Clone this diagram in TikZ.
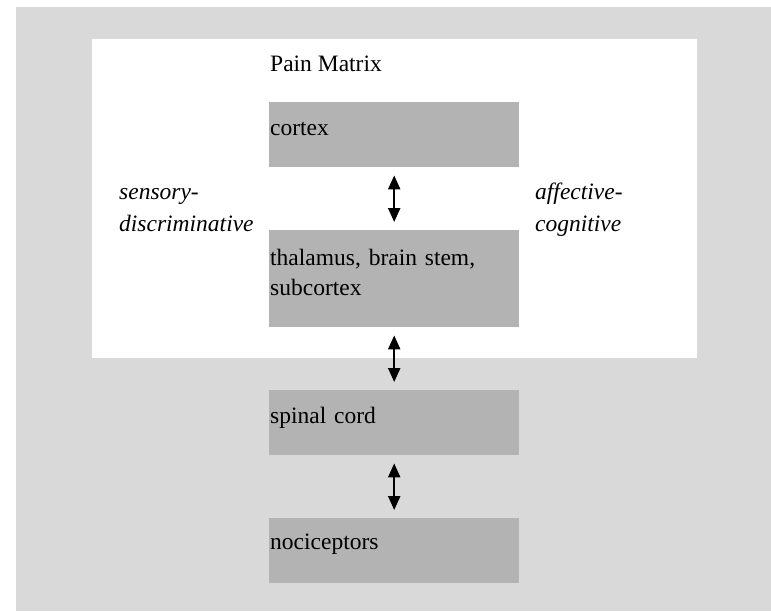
\documentclass[tikz,border=0pt]{standalone}
\usepackage{fontspec}
\setmainfont{Liberation Serif}
\usetikzlibrary{arrows.meta}
\definecolor{panelgray}{RGB}{217,217,217}
\definecolor{boxgray}{RGB}{179,179,179}
\tikzset{stage/.style={fill=boxgray, anchor=north west, inner sep=0pt, inner xsep=1pt,
    text width=248pt, align=left, font=\fontsize{23.5}{30}\selectfont}}
\tikzset{side/.style={anchor=base west, inner sep=0pt, align=left,
    font=\fontsize{23.5}{32}\selectfont\itshape}}
\tikzset{link/.style={{Triangle[width=12pt,length=14pt]}-{Triangle[width=12pt,length=14pt]},
    line width=2.2pt, shorten <=8pt, shorten >=8pt}}
\begin{document}
\begin{tikzpicture}[x=1pt, y=-1pt]
      \useasboundingbox (0, 0) rectangle (771, 611);
      \fill [white] (0, 0) rectangle (771, 611);
      \fill [panelgray] (16, 7) rectangle (771, 611);
      \fill [white] (92, 39) rectangle (697, 358);

      \node [side] (title) at (270, 71) {\upshape Pain Matrix};
      \node [side] (sensory) at (119, 231) {sensory-\\discriminative};
      \node [side] (affective) at (535, 231) {affective-\\cognitive};

      \node [stage, text height=33pt, text depth=32pt] (cortex) at (269, 102) {cortex};
      \node [stage, text height=35pt, text depth=62pt] (thalamus) at (269, 230) {thalamus, brain stem,\\subcortex};
      \node [stage, text height=33pt, text depth=32pt] (spinal) at (269, 390) {spinal cord};
      \node [stage, text height=31pt, text depth=34pt] (noci) at (269, 518) {nociceptors};

      \draw [link] (cortex) -- (thalamus);
      \draw [link] (thalamus) -- (spinal);
      \draw [link] (spinal) -- (noci);
    \end{tikzpicture}
\end{document}
